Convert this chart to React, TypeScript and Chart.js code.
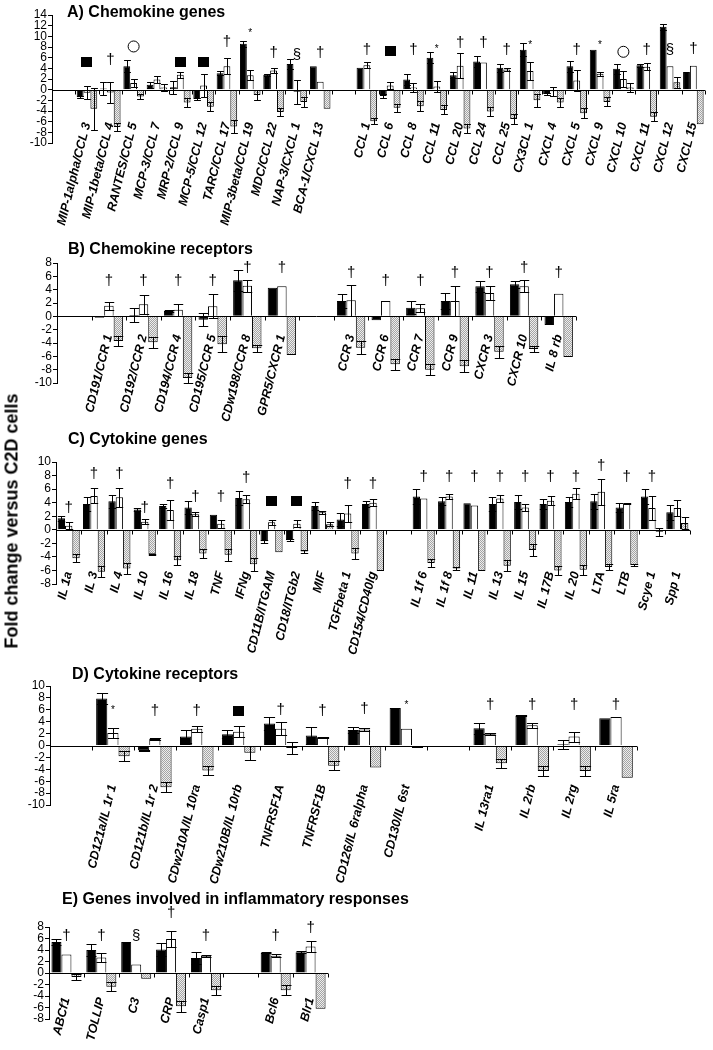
import React, { useEffect, useRef } from 'react';
import { Chart, registerables } from 'chart.js';

Chart.register(...registerables);

const FONT = 'Arial, "Liberation Sans", Helvetica, sans-serif';

// ---------------- Panel A: Chemokine genes ----------------
const catsA = ['', 'MIP-1alpha/CCL 3', 'MIP-1beta/CCL 4', 'RANTES/CCL 5', 'MCP-3/CCL 7', 'MRP-2/CCL 9', 'MCP-5/CCL 12', 'TARC/CCL 17', 'MIP-3beta/CCL 19', 'MDC/CCL 22', 'NAP-3/CXCL 1', 'BCA-1/CXCL 13', '', 'CCL 1', 'CCL 6', 'CCL 8', 'CCL 11', 'CCL 20', 'CCL 24', 'CCL 25', 'CX3CL 1', 'CXCL 4', 'CXCL 5', 'CXCL 9', 'CXCL 10', 'CXCL 11', 'CXCL 12', 'CXCL 15'];
const blackA = [null, -1.4, 0.2, 4.4, 0.9, 0.45, -1.75, 3.1, 8.6, 2.8, 4.8, 4.4, null, 4.1, -1.2, 1.9, 6.0, 2.7, 5.3, 4.1, 7.5, -0.8, 4.4, 7.5, 3.9, 4.6, 11.8, 3.3];
const blackErrA = [0, 0.2, 1.2, 1.1, 0.5, 1.25, 0.2, 0.4, 0.6, 0.2, 0.95, 0, 0, 0, 0.3, 1.1, 1.0, 0.6, 1.0, 0.7, 1.2, 0.2, 1.0, 0, 1.0, 0.3, 0.6, 0];
const whiteA = [null, -0.6, -0.55, 1.25, 1.9, 2.8, 0.8, 4.4, 2.7, 3.6, -0.4, 1.5, null, 4.6, 0.8, 0.4, 0.6, 4.5, 5.1, 3.8, 3.5, -0.3, 1.7, 3.0, 2.0, 4.3, 4.4, 4.5];
const whiteErrA = [0, 1.2, 1.95, 0.75, 0.6, 0.6, 2.1, 1.45, 0.9, 0.5, 2.2, 0, 0, 0.5, 0.7, 0.8, 1.0, 2.3, 0, 0.3, 1.7, 0.8, 2.0, 0.4, 1.5, 0.7, 0, 0];
const hatchA = [null, -3.6, -7.0, -1.3, 0.4, -2.4, -3.2, -6.9, -1.0, -4.2, -2.3, -3.6, null, -5.9, -3.4, -3.1, -3.8, -7.3, -4.1, -5.5, -2.0, -2.4, -4.4, -2.3, 0.4, -5.1, 1.4, -6.5];
const hatchErrA = [0, 3.9, 0.8, 0.4, 0.7, 0.8, 0.8, 1.25, 0.9, 0.8, 0.9, 0, 0, 0.5, 0.8, 0.9, 0.85, 0.9, 0.9, 0.85, 1.2, 0.85, 0.95, 0.85, 0.9, 0.85, 1.0, 0];
const marksA = ['', '■', '†', '○', '', '■', '■', '†', '*', '†', '§', '†', '', '†', '■', '†', '*', '†', '†', '†', '*', '', '†', '*', '○', '†', '§', '†'];
const markLevelsA = [0, 5.1, 5.6, 8.1, 0, 5.1, 5.1, 9.0, 10.5, 6.9, 6.6, 6.9, 0, 7.4, 7.2, 7.5, 7.5, 8.8, 8.8, 7.5, 8.4, 0, 7.5, 8.4, 7.1, 7.5, 7.5, 7.6];

// ---------------- Panel B: Chemokine receptors ----------------
const catsB = ['', 'CD191/CCR 1', 'CD192/CCR 2', 'CD194/CCR 4', 'CD195/CCR 5', 'CDw198/CCR 8', 'GPR5/CXCR 1', '', 'CCR 3', 'CCR 6', 'CCR 7', 'CCR 9', 'CXCR 3', 'CXCR 10', 'IL 8 rb'];
const blackB = [null, -0.2, 0.2, 0.8, -0.5, 5.4, 4.3, null, 2.3, -0.6, 1.3, 2.3, 4.5, 4.8, -1.3];
const blackErrB = [0, 0, 1.0, 0.2, 1.0, 1.6, 0, 0, 1.0, 0, 1.0, 1.2, 0.8, 0.5, 0];
const whiteB = [null, 1.6, 1.8, 1.0, 1.5, 4.6, 4.5, null, 2.4, 2.3, 1.2, 2.3, 3.5, 4.5, 3.4];
const whiteErrB = [0, 0.6, 1.4, 0.9, 1.8, 0.9, 0, 0, 2.3, 0, 0.6, 2.2, 1.1, 0.9, 0];
const hatchB = [null, -3.7, -3.9, -9.25, -4.2, -4.8, -5.8, null, -4.7, -7.2, -8.0, -7.5, -5.3, -4.9, -6.1];
const hatchErrB = [0, 0.7, 0.8, 0.75, 1.2, 0.55, 0, 0, 1.0, 0.8, 0.8, 0.9, 0.9, 0.5, 0];
const marksB = ['', '†', '†', '†', '†', '†', '†', '', '†', '†', '†', '†', '†', '†', '†'];
const markLevelsB = [0, 5.25, 5.25, 5.25, 5.25, 7.25, 7.25, 0, 6.5, 5.25, 5.25, 6.5, 6.5, 7.25, 6.5];

// ---------------- Panel C: Cytokine genes ----------------
const catsC = ['IL 1a', 'IL 3', 'IL 4', 'IL 10', 'IL 16', 'IL 18', 'TNF', 'IFNg', 'CD11B/ITGAM', 'CD18/ITGb2', 'MIF', 'TGFbeta 1', 'CD154/CD40lg', '', 'IL 1f 6', 'IL 1f 8', 'IL 11', 'IL 13', 'IL 15', 'IL 17B', 'IL 20', 'LTA', 'LTB', 'Scye 1', 'Spp 1'];
const blackC = [1.7, 3.8, 4.2, 3.0, 3.5, 3.3, 2.2, 4.7, -1.7, -1.5, 3.5, 1.5, 3.8, null, 4.9, 4.2, 3.9, 3.8, 4.1, 3.8, 4.1, 4.2, 3.3, 4.9, 2.6];
const blackErrC = [0.4, 1.0, 1.0, 0.2, 0.3, 0.9, 0, 1.0, 0.2, 0.1, 0.6, 1.0, 0.4, 0, 1.1, 0.6, 0, 1.0, 1.1, 0.8, 0.7, 1.1, 0.7, 1.1, 1.1];
const whiteC = [0.6, 5.0, 4.8, 1.2, 2.9, 2.3, 0.9, 4.5, 1.1, 0.9, 2.6, 2.4, 4.0, null, 4.6, 4.9, 3.6, 4.6, 3.3, 4.3, 5.3, 5.6, 3.9, 3.2, 3.2];
const whiteErrC = [0.5, 1.1, 1.4, 0.4, 1.5, 0.3, 0.6, 0.6, 0.4, 0.5, 0.2, 1.3, 0.5, 0, 0, 0.4, 0, 0.5, 0.5, 0.7, 0.8, 1.9, 0.1, 1.8, 1.2];
const hatchC = [-4.2, -6.2, -5.7, -3.6, -4.5, -3.5, -3.7, -5.1, -3.3, -3.2, 0.8, -3.5, -6.1, null, -4.9, -5.7, -6.1, -5.3, -3.0, -6.0, -5.9, -5.5, -5.2, -0.3, 1.0];
const hatchErrC = [0.6, 0.8, 0.8, 0.1, 0.7, 0.7, 0.9, 1.0, 0, 0.2, 0.3, 0.8, 0, 0, 0.6, 0.2, 0, 0.8, 0.9, 0.6, 0.7, 0.5, 0.2, 0.6, 0.9];
const marksC = ['†', '†', '†', '†', '†', '†', '†', '†', '■', '■', '', '†', '†', '', '†', '†', '†', '†', '†', '†', '†', '†', '†', '†', ''];
const markLevelsC = [3.2, 8.3, 8.3, 3.2, 6.8, 4.9, 4.9, 7.6, 4.2, 4.2, 0, 6.8, 6.8, 0, 7.8, 7.8, 7.8, 7.8, 7.8, 7.8, 7.8, 9.5, 7.8, 7.8, 0];

// ---------------- Panel D: Cytokine receptors ----------------
const catsD = ['', 'CD121a/IL 1r 1', 'CD121b/IL 1r 2', 'CDw210A/IL 10ra', 'CDw210B/IL 10rb', 'TNFRSF1A', 'TNFRSF1B', 'CD126/IL 6ralpha', 'CD130/IL 6st', '', 'IL 13ra1', 'IL 2rb', 'IL 2rg', 'IL 5ra'];
const blackD = [null, 7.9, -0.8, 1.5, 1.9, 3.7, 1.7, 2.6, 6.3, null, 2.9, 5.0, 0.2, 4.6];
const blackErrD = [0, 0.9, 0.1, 1.1, 0.7, 1.1, 1.4, 0.5, 0, 0, 0.9, 0.1, 0.8, 0];
const whiteD = [null, 2.1, 1.1, 2.8, 2.3, 2.8, 1.4, 2.7, 2.8, null, 1.9, 3.4, 1.5, 4.8];
const whiteErrD = [0, 0.9, 0.1, 0.5, 0.9, 1.1, 0.1, 0.3, 0, 0, 0.2, 0.4, 0.85, 0];
const hatchD = [null, -1.8, -7.0, -4.2, -1.2, -0.4, -3.4, -3.7, -0.4, null, -3.0, -4.3, -4.3, -5.4];
const hatchErrD = [0, 0.8, 0.8, 0.8, 1.2, 1.0, 0.8, 0, 0, 0, 0.8, 0.8, 0.85, 0];
const marksD = ['', '*', '†', '†', '■', '†', '†', '†', '*', '', '†', '†', '†', '†'];
const markLevelsD = [0, 6.0, 5.8, 5.8, 5.8, 6.0, 5.8, 6.1, 6.8, 0, 6.8, 6.8, 6.8, 6.8];

// ---------------- Panel E: Inflammatory responses ----------------
const catsE = ['ABCf1', 'TOLLIP', 'C3', 'CRP', 'Casp1', '', 'Bcl6', 'Blr1'];
const blackE = [5.4, 4.0, 5.4, 4.1, 2.6, null, 3.5, 3.6];
const blackErrE = [0.5, 1.0, 0, 1.1, 1.1, 0, 0.1, 0.2];
const whiteE = [3.2, 2.7, 1.5, 5.9, 3.0, null, 3.0, 4.6];
const whiteErrE = [0, 0.7, 0, 1.4, 0.2, 0, 0.3, 1.0];
const hatchE = [-0.7, -2.4, -1.0, -5.8, -3.0, null, -3.0, -6.2];
const hatchErrE = [0.6, 0.8, 0, 0.9, 0.8, 0, 0.9, 0];
const marksE = ['†', '†', '§', '†', '†', '', '†', '†'];
const markLevelsE = [6.5, 6.5, 6.5, 10.4, 6.5, 0, 6.5, 7.8];

type Series = (number | null)[];
type Spec = {
  title: string;
  titleLeft: number;
  titleTop: number;
  cats: string[];
  black: Series; blackErr: number[];
  white: Series; whiteErr: number[];
  hatch: Series; hatchErr: number[];
  marks: string[]; markLevels: number[];
  yMin: number; yMax: number;
  box: { left: number; right: number; top: number; bottom: number };
  canvasTop: number; canvasHeight: number;
  labelPad: number; catPct: number;
};

const PAGE_W = 713;

const specs: Spec[] = [
  {
    title: 'A) Chemokine genes', titleLeft: 67, titleTop: 4,
    cats: catsA, black: blackA, blackErr: blackErrA, white: whiteA, whiteErr: whiteErrA, hatch: hatchA, hatchErr: hatchErrA,
    marks: marksA, markLevels: markLevelsA, yMin: -10, yMax: 14,
    box: { left: 52, right: 705, top: 15, bottom: 143 }, canvasTop: 0, canvasHeight: 235, labelPad: -22, catPct: 0.88,
  },
  {
    title: 'B) Chemokine receptors', titleLeft: 68, titleTop: 241,
    cats: catsB, black: blackB, blackErr: blackErrB, white: whiteB, whiteErr: whiteErrB, hatch: hatchB, hatchErr: hatchErrB,
    marks: marksB, markLevels: markLevelsB, yMin: -10, yMax: 8,
    box: { left: 57, right: 576, top: 263, bottom: 383 }, canvasTop: 233, canvasHeight: 207, labelPad: -50, catPct: 0.82,
  },
  {
    title: 'C) Cytokine genes', titleLeft: 68, titleTop: 431,
    cats: catsC, black: blackC, blackErr: blackErrC, white: whiteC, whiteErr: whiteErrC, hatch: hatchC, hatchErr: hatchErrC,
    marks: marksC, markLevels: markLevelsC, yMin: -8, yMax: 10,
    box: { left: 56, right: 690, top: 462, bottom: 584 }, canvasTop: 432, canvasHeight: 258, labelPad: -14, catPct: 0.87,
  },
  {
    title: 'D) Cytokine receptors', titleLeft: 72, titleTop: 666,
    cats: catsD, black: blackD, blackErr: blackErrD, white: whiteD, whiteErr: whiteErrD, hatch: hatchD, hatchErr: hatchErrD,
    marks: marksD, markLevels: markLevelsD, yMin: -10, yMax: 10,
    box: { left: 50, right: 637, top: 686, bottom: 805 }, canvasTop: 656, canvasHeight: 244, labelPad: -22, catPct: 0.8,
  },
  {
    title: 'E) Genes involved in inflammatory responses', titleLeft: 62, titleTop: 891,
    cats: catsE, black: blackE, blackErr: blackErrE, white: whiteE, whiteErr: whiteErrE, hatch: hatchE, hatchErr: hatchErrE,
    marks: marksE, markLevels: markLevelsE, yMin: -8, yMax: 8,
    box: { left: 49, right: 328, top: 927, bottom: 1019 }, canvasTop: 897, canvasHeight: 153, labelPad: -23, catPct: 0.86,
  },
];

function makeHatch(): CanvasPattern | string {
  const c = document.createElement('canvas');
  c.width = 2;
  c.height = 2;
  const g = c.getContext('2d');
  if (!g) return '#cccccc';
  g.fillStyle = '#ededed';
  g.fillRect(0, 0, 2, 2);
  g.fillStyle = '#a4a4a4';
  g.fillRect(0, 0, 1, 1);
  g.fillRect(1, 1, 1, 1);
  const p = g.createPattern(c, 'repeat');
  return p || '#cccccc';
}

function Panel({ spec }: { spec: Spec }) {
  const ref = useRef<HTMLCanvasElement | null>(null);
  useEffect(() => {
    const canvas = ref.current;
    if (!canvas) return;
    const errs = [spec.blackErr, spec.whiteErr, spec.hatchErr];
    const overlay = {
      id: 'overlay',
      afterDatasetsDraw(chart: any) {
        const ctx = chart.ctx as CanvasRenderingContext2D;
        const xs = chart.scales.x;
        const ys = chart.scales.y;
        const area = chart.chartArea;
        ctx.save();
        ctx.strokeStyle = '#000';
        ctx.fillStyle = '#000';
        ctx.lineWidth = 1;
        // zero axis with category tick marks
        const yy = Math.round(ys.getPixelForValue(0)) + 0.5;
        ctx.beginPath();
        ctx.moveTo(area.left, yy);
        ctx.lineTo(area.right, yy);
        const n = spec.cats.length;
        const w = (area.right - area.left) / n;
        for (let k = 0; k <= n; k++) {
          const x = Math.round(area.left + k * w) + 0.5;
          ctx.moveTo(x, yy);
          ctx.lineTo(x, yy + 4);
        }
        ctx.stroke();
        // error bars
        chart.data.datasets.forEach((ds: any, i: number) => {
          const meta = chart.getDatasetMeta(i);
          meta.data.forEach((bar: any, j: number) => {
            const v = ds.data[j];
            const e = errs[i][j];
            if (v == null || !e) return;
            const x = Math.round(bar.x) + 0.5;
            const half = bar.width / 2;
            const yt = Math.round(ys.getPixelForValue(v + e)) + 0.5;
            const yb = Math.round(ys.getPixelForValue(v - e)) + 0.5;
            ctx.beginPath();
            ctx.moveTo(x, yt);
            ctx.lineTo(x, yb);
            ctx.moveTo(x - half, yt);
            ctx.lineTo(x + half, yt);
            ctx.moveTo(x - half, yb);
            ctx.lineTo(x + half, yb);
            ctx.stroke();
          });
        });
        // significance marks
        spec.marks.forEach((m, j) => {
          if (!m) return;
          const x = xs.getPixelForValue(j);
          const y = ys.getPixelForValue(spec.markLevels[j]);
          if (m === '■') {
            ctx.fillRect(Math.round(x - 5.5), Math.round(y - 5), 11, 10);
          } else if (m === '○') {
            ctx.beginPath();
            ctx.arc(x, y, 5.5, 0, Math.PI * 2);
            ctx.stroke();
          } else {
            ctx.textAlign = 'center';
            ctx.textBaseline = 'middle';
            ctx.font = m === '*' ? `10px ${FONT}` : `15px ${FONT}`;
            ctx.fillText(m, x, y);
          }
        });
        ctx.restore();
      },
    };

    const hatch = makeHatch();
    const chartTop = spec.box.top - spec.canvasTop;
    const chartBottom = spec.box.bottom - spec.canvasTop;
    const xHeight = spec.canvasHeight - chartBottom;

    const chart = new Chart(canvas, {
      type: 'bar',
      data: {
        labels: spec.cats,
        datasets: [
          { label: 'black', data: spec.black, backgroundColor: '#000000', borderColor: '#000000', borderWidth: 1, barPercentage: 1, categoryPercentage: spec.catPct },
          { label: 'white', data: spec.white, backgroundColor: '#ffffff', borderColor: '#000000', borderWidth: 1, barPercentage: 1, categoryPercentage: spec.catPct },
          { label: 'hatched', data: spec.hatch, backgroundColor: hatch as any, borderColor: '#000000', borderWidth: 1, barPercentage: 1, categoryPercentage: spec.catPct },
        ],
      },
      options: {
        responsive: false,
        animation: false,
        devicePixelRatio: 1,
        layout: { padding: { top: chartTop, right: PAGE_W - spec.box.right, left: 0, bottom: 0 } },
        plugins: { legend: { display: false }, tooltip: { enabled: false }, title: { display: false } },
        scales: {
          x: {
            grid: { display: false, drawTicks: false },
            border: { display: false },
            ticks: {
              autoSkip: false,
              maxRotation: 76,
              minRotation: 76,
              padding: spec.labelPad,
              color: '#000',
              font: { family: FONT, size: 12.5, weight: 'bold', style: 'italic' },
            },
            afterFit: (s: any) => {
              s.height = xHeight;
              // labels start above the bottom of the plot, as in the original; do not clip them to the axis box
              s._computeLabelArea = () => undefined;
            },
          },
          y: {
            min: spec.yMin,
            max: spec.yMax,
            grid: { display: true, drawOnChartArea: false, drawTicks: true, tickLength: 4, color: '#000' },
            border: { display: true, color: '#000', width: 1 },
            ticks: { stepSize: 2, autoSkip: false, color: '#000', padding: 1, font: { family: FONT, size: 12 } },
            afterFit: (s: any) => { s.width = spec.box.left; },
          },
        },
      } as any,
      plugins: [overlay],
    });
    return () => chart.destroy();
  }, [spec]);

  return (
    <canvas
      ref={ref}
      width={PAGE_W}
      height={spec.canvasHeight}
      style={{ position: 'absolute', left: 0, top: spec.canvasTop, width: PAGE_W, height: spec.canvasHeight }}
    />
  );
}

export default function App() {
  return (
    <div style={{ position: 'absolute', left: 0, top: 0, width: PAGE_W, height: 1050, background: '#fff', overflow: 'hidden' }}>
      {specs.map((s, i) => (
        <Panel key={i} spec={s} />
      ))}
      {specs.map((s, i) => (
        <div
          key={'t' + i}
          style={{ position: 'absolute', left: s.titleLeft, top: s.titleTop, font: `bold 16px ${FONT}`, lineHeight: '16px', whiteSpace: 'nowrap', color: '#000' }}
        >
          {s.title}
        </div>
      ))}
      <div
        style={{
          position: 'absolute', left: 12, top: 521, transform: 'translate(-50%, -50%) rotate(-90deg)',
          font: `bold 18px ${FONT}`, whiteSpace: 'nowrap', color: '#000',
        }}
      >
        Fold change versus C2D cells
      </div>
    </div>
  );
}
